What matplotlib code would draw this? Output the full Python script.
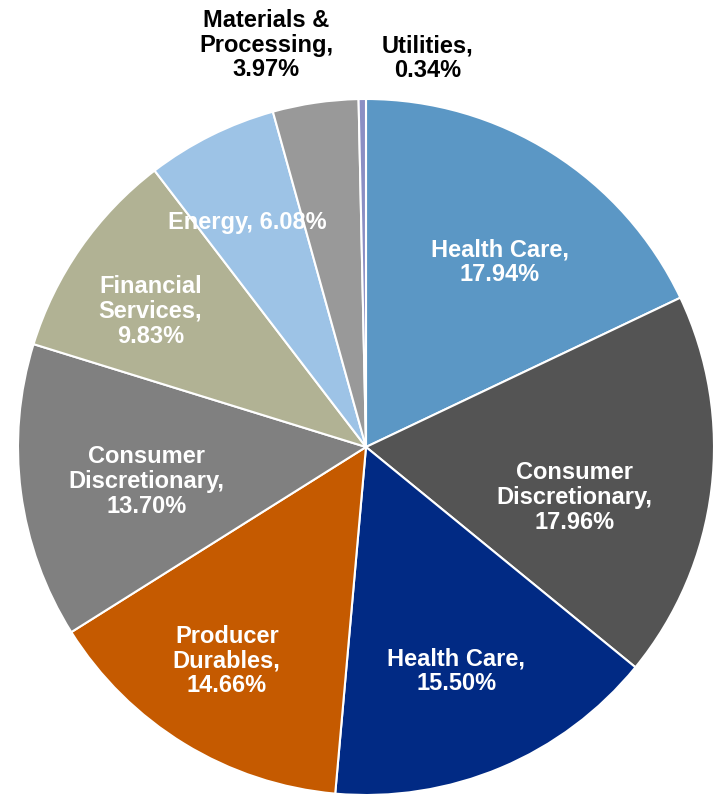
import matplotlib.pyplot as plt

plt.rcParams['font.family'] = ['Liberation Sans', 'DejaVu Sans']

sectors = ['Health Care', 'Consumer\nDiscretionary', 'Health Care', 'Producer\nDurables',
           'Consumer\nDiscretionary', 'Financial\nServices', 'Energy',
           'Materials &\nProcessing', 'Utilities']
weights = [17.94, 17.96, 15.50, 14.66, 13.70, 9.83, 6.08, 3.97, 0.34]
colors = ['#5B97C5', '#545454', '#012A84', '#C55A00', '#808080',
          '#B1B294', '#9DC3E6', '#999999', '#8B8FC4']

# label placement (x, y in pie radii); the last two sit outside the pie
label_pos = [(0.385, 0.53), (0.60, -0.145), (0.26, -0.645), (-0.40, -0.615),
             (-0.63, -0.10), (-0.62, 0.39), (-0.34, 0.645),
             (-0.287, 1.155), (0.178, 1.118)]
inside = [True, True, True, True, True, True, True, False, False]

fig = plt.figure(figsize=(7.14, 7.94), dpi=100)
ax = fig.add_axes([18 / 714, -1 / 794, 696 / 714, 696 / 794])
ax.pie(weights, colors=colors, startangle=90, counterclock=False,
       wedgeprops=dict(edgecolor='white', linewidth=1.5), radius=1)
ax.set_xlim(-1, 1)
ax.set_ylim(-1, 1)
ax.set_aspect('equal')
ax.axis('off')

for name, w, (x, y), ins in zip(sectors, weights, label_pos, inside):
    if name == 'Energy':
        txt = f'{name}, {w:.2f}%'
    else:
        txt = f'{name},\n{w:.2f}%'
    ax.text(x, y, txt, ha='center', va='center', fontsize=17, fontweight='bold',
            color='white' if ins else 'black', linespacing=1.1, clip_on=False)

fig.savefig('out.png', dpi=100)
